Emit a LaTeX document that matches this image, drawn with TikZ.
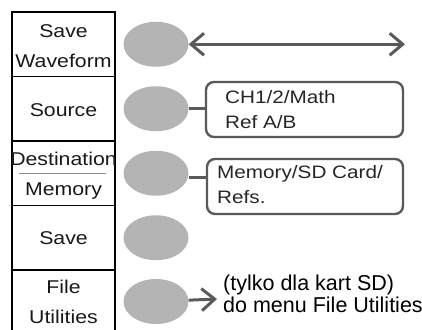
\documentclass[tikz,border=0pt]{standalone}
\usepackage{fontspec}
\setmainfont{Liberation Sans}
\usetikzlibrary{arrows.meta,shapes.geometric}
\definecolor{keygray}{HTML}{B4B4B4}
\definecolor{linegray}{HTML}{5A5A5A}
\begin{document}
\begin{tikzpicture}[x=1pt,y=-1pt,>={Straight Barb[length=13pt,width=22pt]},
  cell/.style={draw,line width=1.5pt,minimum width=103pt,minimum height=64.5pt,inner sep=0pt},
  menulabel/.style={font=\fontsize{18.5}{30}\selectfont,align=center,xscale=1.15,inner sep=0pt,text=black!90},
  softkey/.style={ellipse,fill=keygray,minimum width=65pt,minimum height=45pt,inner sep=0pt},
  optbox/.style={draw=linegray,line width=2.4pt,rounded corners=8pt,minimum height=55pt,inner sep=0pt},
  optlabel/.style={font=\fontsize{18}{25}\selectfont,align=left,xscale=1.15,anchor=north west,inner sep=0pt,text=black!85},
  link/.style={draw=linegray,line width=3pt}]
\useasboundingbox (0,0) rectangle (422,329);
\clip (0,0) rectangle (422,329);
% menu column
\node[cell] (cwave) at (63.5,44.25) {};
\node[cell] (csrc) at (63.5,108.75) {};
\node[cell] (cdest) at (63.5,173.25) {};
\node[cell] (csave) at (63.5,237.75) {};
\node[cell] (cutil) at (63.5,302.25) {};
\node[menulabel,yshift=-2pt] at (cwave) {Save\\Waveform};
\node[menulabel,yshift=-1pt] at (csrc) {Source};
\node[menulabel,yshift=-2.5pt] at (cdest) {Destination\\Memory};
\draw[black!45,line width=0.8pt] ([xshift=8pt]cdest.west) -- ([xshift=-10pt]cdest.east);
\node[menulabel] at (csave) {Save};
\node[menulabel] at (cutil) {File\\Utilities};
% soft keys
\node[softkey] (kwave) at (156,44.25) {};
\node[softkey] (ksrc) at (156,108.75) {};
\node[softkey] (kdest) at (156,173.25) {};
\node[softkey] (ksave) at (156,237.75) {};
\node[softkey] (kutil) at (156,301.5) {};
% options
\node[optbox,minimum width=197pt] (srcbox) at (304.5,109.5) {};
\node[optbox,minimum width=196pt] (destbox) at (305,186.5) {};
\node[optlabel] at (225,90) {CH1/2/Math\\Ref A/B};
\node[optlabel] at (217,165) {Memory/SD Card/\\Refs.};
\node[font=\fontsize{21.5}{22}\selectfont,align=left,anchor=north west,inner sep=0pt] (utiltext) at (223,274.5) {(tylko dla kart SD)\\do menu File Utilities};
\coordinate (wavend) at (405,44.25);
\coordinate (utilend) at (217,299);
\draw[link,<->] (kwave) -- (wavend);
\draw[link] (ksrc) -- (ksrc -| srcbox.west);
\draw[link] (kdest.east |- 0,177) -- (destbox.west |- 0,177);
\draw[link,->] (kutil) -- (utilend);
\end{tikzpicture}
\end{document}
